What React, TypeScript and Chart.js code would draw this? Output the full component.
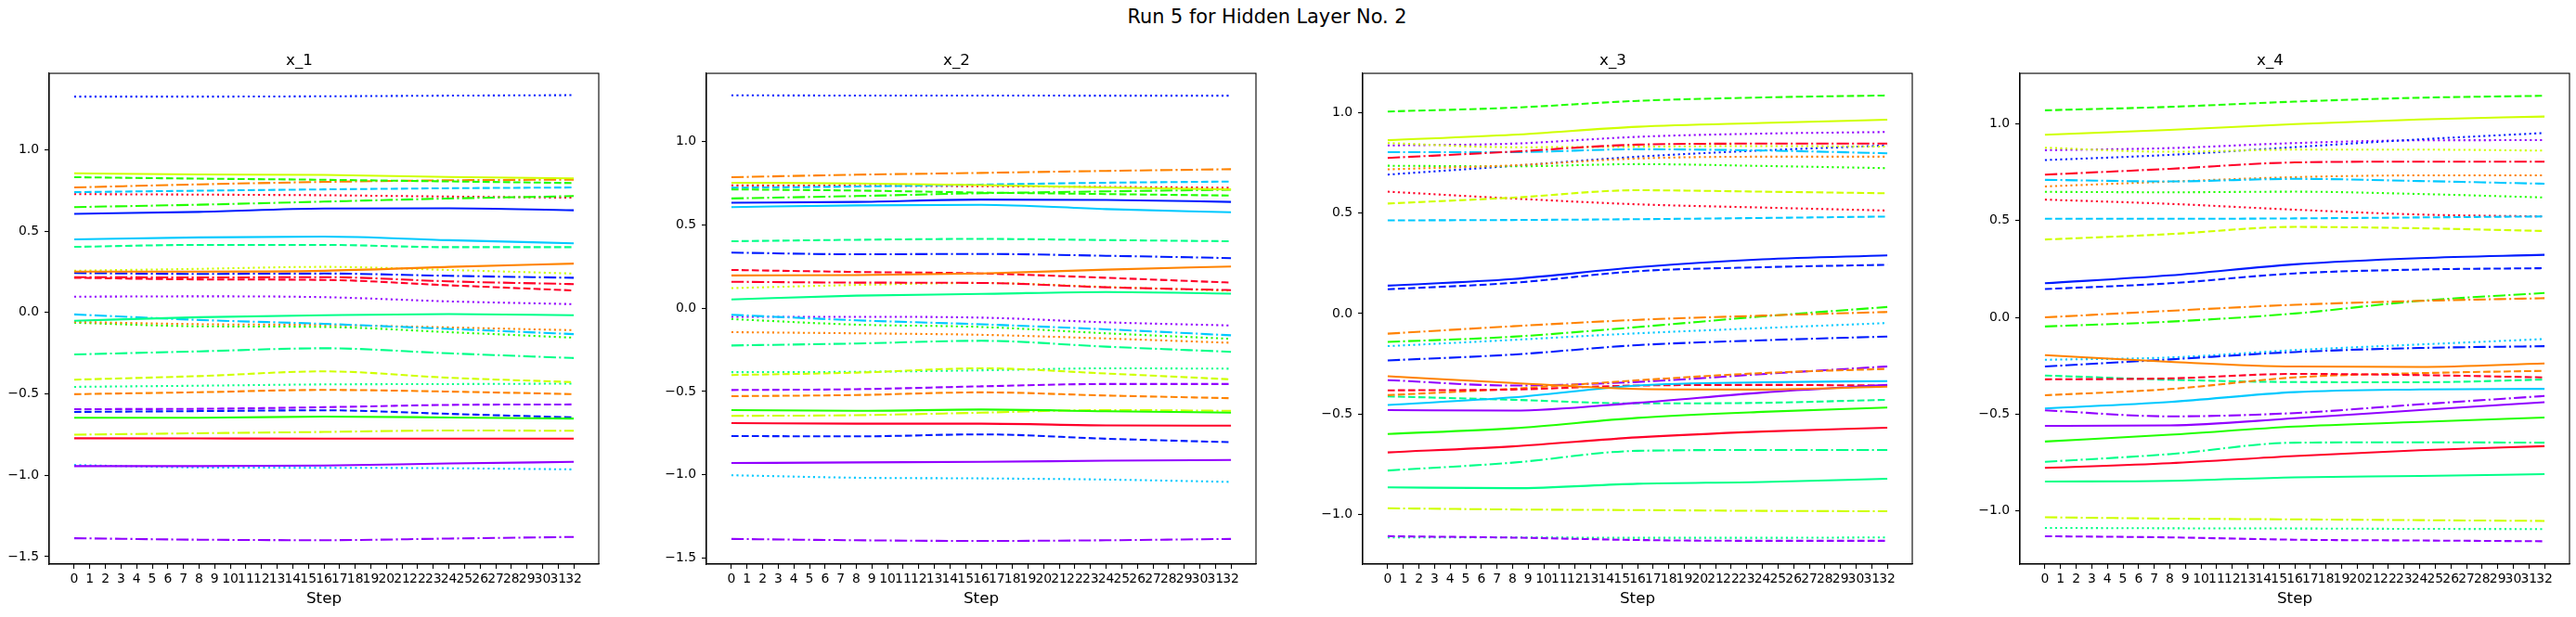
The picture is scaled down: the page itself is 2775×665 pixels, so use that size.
import { useEffect, useRef } from 'react';
import Chart from 'chart.js/auto';

// sampled steps (every 8th step) and the full tick list of the x axis
const steps = [0, 8, 16, 24, 32];
const stepTicks = [0, 1, 2, 3, 4, 5, 6, 7, 8, 9, 10, 11, 12, 13, 14, 15, 16, 17, 18, 19, 20, 21, 22, 23, 24, 25, 26, 27, 28, 29, 30, 31, 32];
const yTicksWide = [-1.5, -1, -0.5, 0, 0.5, 1];
const yTicksNarrow = [-1, -0.5, 0, 0.5, 1];

// red, orange, yellow, green, spring green, sky blue, blue, purple
const colours = ['#ff0029', '#ff8300', '#cfff00', '#22ff00', '#00ff89', '#00c9ff', '#001cff', '#9100ff'];
const dashes = [[], [7.7, 3.3], [13.3, 3.3, 2.1, 3.3], [2.1, 3.4]];

// x_1 : rows are colours, columns are steps
const x1Solid = [
  [-0.773, -0.774, -0.775, -0.775, -0.775],
  [0.251, 0.251, 0.256, 0.28, 0.3],
  [0.855, 0.848, 0.845, 0.832, 0.824],
  [-0.647, -0.647, -0.64, -0.645, -0.652],
  [-0.051, -0.029, -0.017, -0.01, -0.017],
  [0.449, 0.461, 0.466, 0.444, 0.425],
  [0.606, 0.618, 0.638, 0.64, 0.628],
  [-0.944, -0.944, -0.94, -0.928, -0.918],
];
const x1Dashed = [
  [0.213, 0.203, 0.2, 0.167, 0.135],
  [-0.502, -0.49, -0.476, -0.486, -0.502],
  [-0.413, -0.391, -0.362, -0.401, -0.428],
  [0.831, 0.822, 0.815, 0.805, 0.795],
  [0.403, 0.415, 0.415, 0.401, 0.401],
  [0.739, 0.748, 0.756, 0.763, 0.768],
  [-0.611, -0.606, -0.601, -0.623, -0.645],
  [-0.594, -0.592, -0.582, -0.568, -0.565],
];
const x1DashDot = [
  [0.217, 0.215, 0.217, 0.191, 0.174],
  [0.768, 0.787, 0.802, 0.812, 0.816],
  [-0.751, -0.742, -0.734, -0.725, -0.727],
  [0.647, 0.662, 0.681, 0.7, 0.715],
  [-0.258, -0.239, -0.22, -0.251, -0.28],
  [-0.012, -0.046, -0.07, -0.101, -0.133],
  [0.242, 0.237, 0.239, 0.225, 0.213],
  [-1.387, -1.396, -1.399, -1.389, -1.379],
];
const x1Dotted = [
  [0.727, 0.724, 0.72, 0.712, 0.705],
  [-0.058, -0.072, -0.077, -0.092, -0.109],
  [0.256, 0.268, 0.28, 0.261, 0.239],
  [-0.063, -0.085, -0.089, -0.121, -0.155],
  [-0.457, -0.45, -0.442, -0.44, -0.437],
  [-0.937, -0.952, -0.954, -0.957, -0.964],
  [1.326, 1.326, 1.328, 1.332, 1.335],
  [0.097, 0.099, 0.094, 0.068, 0.051],
];

// x_2
const x2Solid = [
  [-0.689, -0.693, -0.693, -0.703, -0.705],
  [0.196, 0.198, 0.208, 0.231, 0.25],
  [0.752, 0.748, 0.738, 0.724, 0.712],
  [-0.611, -0.616, -0.608, -0.618, -0.627],
  [0.052, 0.075, 0.085, 0.097, 0.087],
  [0.606, 0.616, 0.62, 0.594, 0.575],
  [0.632, 0.637, 0.651, 0.649, 0.637],
  [-0.929, -0.925, -0.922, -0.915, -0.91],
];
const x2Dashed = [
  [0.229, 0.217, 0.208, 0.182, 0.153],
  [-0.528, -0.521, -0.505, -0.524, -0.54],
  [-0.401, -0.387, -0.361, -0.392, -0.427],
  [0.712, 0.705, 0.693, 0.684, 0.675],
  [0.401, 0.41, 0.415, 0.408, 0.401],
  [0.722, 0.729, 0.741, 0.752, 0.759],
  [-0.767, -0.769, -0.757, -0.783, -0.804],
  [-0.491, -0.486, -0.469, -0.455, -0.455],
];
const x2DashDot = [
  [0.158, 0.153, 0.151, 0.125, 0.108],
  [0.785, 0.8, 0.811, 0.823, 0.833],
  [-0.646, -0.642, -0.627, -0.611, -0.616],
  [0.658, 0.672, 0.689, 0.7, 0.71],
  [-0.224, -0.212, -0.196, -0.231, -0.262],
  [-0.04, -0.073, -0.097, -0.127, -0.163],
  [0.333, 0.323, 0.325, 0.314, 0.3],
  [-1.384, -1.392, -1.396, -1.392, -1.384],
];
const x2Dotted = [
  [0.736, 0.734, 0.731, 0.727, 0.722],
  [-0.144, -0.151, -0.16, -0.182, -0.208],
  [0.12, 0.139, 0.151, 0.127, 0.104],
  [-0.066, -0.099, -0.113, -0.151, -0.184],
  [-0.384, -0.382, -0.373, -0.361, -0.363],
  [-1.002, -1.017, -1.021, -1.028, -1.042],
  [1.276, 1.275, 1.275, 1.274, 1.274],
  [-0.052, -0.052, -0.057, -0.085, -0.104],
];

// x_3
const x3Solid = [
  [-0.691, -0.661, -0.616, -0.587, -0.568],
  [-0.312, -0.345, -0.375, -0.378, -0.364],
  [0.863, 0.89, 0.93, 0.949, 0.965],
  [-0.599, -0.571, -0.519, -0.489, -0.468],
  [-0.865, -0.869, -0.847, -0.838, -0.822],
  [-0.455, -0.417, -0.358, -0.342, -0.336],
  [0.139, 0.172, 0.231, 0.27, 0.29],
  [-0.48, -0.483, -0.444, -0.393, -0.355],
];
const x3Dashed = [
  [-0.382, -0.378, -0.358, -0.355, -0.358],
  [-0.406, -0.374, -0.332, -0.296, -0.275],
  [0.548, 0.577, 0.614, 0.607, 0.599],
  [1.006, 1.025, 1.059, 1.076, 1.086],
  [-0.412, -0.429, -0.447, -0.444, -0.429],
  [0.464, 0.466, 0.47, 0.476, 0.483],
  [0.121, 0.153, 0.211, 0.231, 0.243],
  [-1.108, -1.115, -1.127, -1.131, -1.131],
];
const x3DashDot = [
  [0.775, 0.806, 0.841, 0.846, 0.846],
  [-0.1, -0.063, -0.031, -0.01, 0.008],
  [-0.969, -0.975, -0.978, -0.982, -0.984],
  [-0.141, -0.115, -0.067, -0.014, 0.033],
  [-0.781, -0.742, -0.683, -0.679, -0.679],
  [0.804, 0.804, 0.818, 0.812, 0.798],
  [-0.233, -0.204, -0.157, -0.133, -0.114],
  [-0.331, -0.358, -0.34, -0.301, -0.263],
];
const x3Dotted = [
  [0.607, 0.573, 0.544, 0.528, 0.513],
  [0.718, 0.738, 0.772, 0.781, 0.781],
  [0.849, 0.828, 0.831, 0.834, 0.831],
  [0.736, 0.733, 0.744, 0.735, 0.724],
  [-1.114, -1.114, -1.116, -1.116, -1.114],
  [-0.162, -0.131, -0.098, -0.072, -0.047],
  [0.692, 0.735, 0.781, 0.812, 0.837],
  [0.837, 0.846, 0.88, 0.896, 0.904],
];

// x_4
const x4Solid = [
  [-0.777, -0.753, -0.716, -0.686, -0.665],
  [-0.195, -0.23, -0.254, -0.256, -0.238],
  [0.943, 0.968, 0.998, 1.022, 1.037],
  [-0.641, -0.606, -0.564, -0.54, -0.517],
  [-0.848, -0.844, -0.826, -0.819, -0.809],
  [-0.47, -0.437, -0.386, -0.372, -0.369],
  [0.176, 0.217, 0.274, 0.306, 0.323],
  [-0.56, -0.558, -0.521, -0.479, -0.438],
];
const x4Dashed = [
  [-0.32, -0.315, -0.292, -0.298, -0.31],
  [-0.402, -0.37, -0.31, -0.288, -0.276],
  [0.402, 0.43, 0.467, 0.46, 0.446],
  [1.069, 1.087, 1.114, 1.134, 1.144],
  [-0.3, -0.322, -0.334, -0.335, -0.321],
  [0.509, 0.509, 0.511, 0.516, 0.521],
  [0.146, 0.176, 0.227, 0.247, 0.254],
  [-1.13, -1.136, -1.148, -1.152, -1.156],
];
const x4DashDot = [
  [0.737, 0.767, 0.8, 0.804, 0.804],
  [0.0, 0.034, 0.065, 0.085, 0.099],
  [-1.032, -1.039, -1.043, -1.047, -1.051],
  [-0.047, -0.022, 0.02, 0.085, 0.126],
  [-0.746, -0.706, -0.647, -0.645, -0.647],
  [0.71, 0.702, 0.715, 0.704, 0.69],
  [-0.254, -0.217, -0.179, -0.158, -0.149],
  [-0.48, -0.511, -0.494, -0.449, -0.406],
];
const x4Dotted = [
  [0.608, 0.586, 0.556, 0.531, 0.521],
  [0.676, 0.701, 0.724, 0.733, 0.733],
  [0.876, 0.855, 0.866, 0.866, 0.861],
  [0.648, 0.646, 0.649, 0.637, 0.619],
  [-1.087, -1.089, -1.09, -1.092, -1.093],
  [-0.219, -0.207, -0.169, -0.14, -0.112],
  [0.812, 0.839, 0.879, 0.919, 0.952],
  [0.863, 0.874, 0.9, 0.914, 0.915],
];

const panelTitles = ['x_1', 'x_2', 'x_3', 'x_4'];
const panelSeries = [
  [x1Solid, x1Dashed, x1DashDot, x1Dotted],
  [x2Solid, x2Dashed, x2DashDot, x2Dotted],
  [x3Solid, x3Dashed, x3DashDot, x3Dotted],
  [x4Solid, x4Dashed, x4DashDot, x4Dotted],
];
const panelYLimits = [
  [-1.546, 1.469],
  [-1.535, 1.408],
  [-1.247, 1.196],
  [-1.274, 1.26],
];
const panelYTicks = [yTicksWide, yTicksWide, yTicksNarrow, yTicksNarrow];

// layout in page pixels
const axesLeft = [53, 761, 1468, 2176];
const axesWidth = 592;
const sideMargin = 53;
const canvasTop = 40;
const canvasHeight = 625;

Chart.defaults.font.family = "'DejaVu Sans', sans-serif";

const framePlugin = {
  id: 'frame',
  afterDatasetsDraw(chart: Chart) {
    const { ctx, chartArea } = chart;
    ctx.save();
    ctx.strokeStyle = '#000';
    ctx.lineWidth = 1.1;
    ctx.strokeRect(chartArea.left, chartArea.top, chartArea.right - chartArea.left, chartArea.bottom - chartArea.top);
    ctx.restore();
  },
};

const fmtY = (v: number) => (v < 0 ? '\u2212' : '') + Math.abs(v).toFixed(1);

function Panel({ idx }: { idx: number }) {
  const canvasRef = useRef<HTMLCanvasElement | null>(null);

  useEffect(() => {
    if (!canvasRef.current) return;
    const datasets: any[] = [];
    panelSeries[idx].forEach((group, s) => {
      group.forEach((vals, c) => {
        datasets.push({
          data: steps.map((x, i) => ({ x, y: vals[i] })),
          borderColor: colours[c],
          borderWidth: 2.08,
          borderDash: dashes[s],
          pointRadius: 0,
          fill: false,
          cubicInterpolationMode: 'monotone',
        });
      });
    });
    const [yMin, yMax] = panelYLimits[idx];
    const yTicks = panelYTicks[idx];

    const chart = new Chart(canvasRef.current, {
      type: 'line',
      data: { datasets },
      plugins: [framePlugin],
      options: {
        animation: false,
        responsive: true,
        maintainAspectRatio: false,
        layout: { padding: { left: 0, right: sideMargin, top: 0, bottom: 0 } },
        plugins: {
          legend: { display: false },
          tooltip: { enabled: false },
          title: {
            display: true,
            text: panelTitles[idx],
            color: '#000',
            font: { size: 16.7, weight: 'normal' },
            padding: { top: 16, bottom: 3 },
          },
        },
        scales: {
          x: {
            type: 'linear',
            min: -1.6,
            max: 33.6,
            afterBuildTicks: (scale: any) => {
              scale.ticks = stepTicks.map((v) => ({ value: v }));
            },
            afterFit: (scale: any) => {
              scale.height = 57;
            },
            ticks: {
              autoSkip: false,
              maxRotation: 0,
              minRotation: 0,
              color: '#000',
              padding: 3,
              font: { size: 13.9 },
              callback: (v: any) => String(v),
            },
            grid: { drawOnChartArea: false, drawTicks: true, tickLength: 5, tickColor: '#000', tickWidth: 1.1 },
            border: { display: true, color: '#000', width: 1.1 },
            title: {
              display: true,
              text: 'Step',
              color: '#000',
              font: { size: 16.7 },
              padding: { top: 0, bottom: 9 },
            },
          },
          y: {
            type: 'linear',
            min: yMin,
            max: yMax,
            afterBuildTicks: (scale: any) => {
              scale.ticks = yTicks.map((v) => ({ value: v }));
            },
            afterFit: (scale: any) => {
              scale.width = sideMargin;
            },
            ticks: {
              color: '#000',
              padding: 6,
              font: { size: 13.9 },
              callback: (v: any) => fmtY(Number(v)),
            },
            grid: { drawOnChartArea: false, drawTicks: true, tickLength: 5, tickColor: '#000', tickWidth: 1.1 },
            border: { display: true, color: '#000', width: 1.1 },
          },
        },
      },
    });

    return () => {
      chart.destroy();
    };
  }, [idx]);

  return (
    <div
      style={{
        position: 'absolute',
        left: axesLeft[idx] - sideMargin,
        top: canvasTop,
        width: axesWidth + 2 * sideMargin,
        height: canvasHeight,
      }}
    >
      <canvas ref={canvasRef} />
    </div>
  );
}

export default function App() {
  return (
    <div
      style={{
        position: 'fixed',
        left: 0,
        top: 0,
        width: 2775,
        height: 665,
        background: '#fff',
        fontFamily: "'DejaVu Sans', sans-serif",
      }}
    >
      <div
        style={{
          position: 'absolute',
          left: 0,
          top: 5,
          width: 2730,
          height: 26,
          lineHeight: '26px',
          fontSize: 20.8,
          textAlign: 'center',
          color: '#000',
        }}
      >
        Run 5 for Hidden Layer No. 2
      </div>
      {panelTitles.map((_, i) => (
        <Panel key={i} idx={i} />
      ))}
    </div>
  );
}
